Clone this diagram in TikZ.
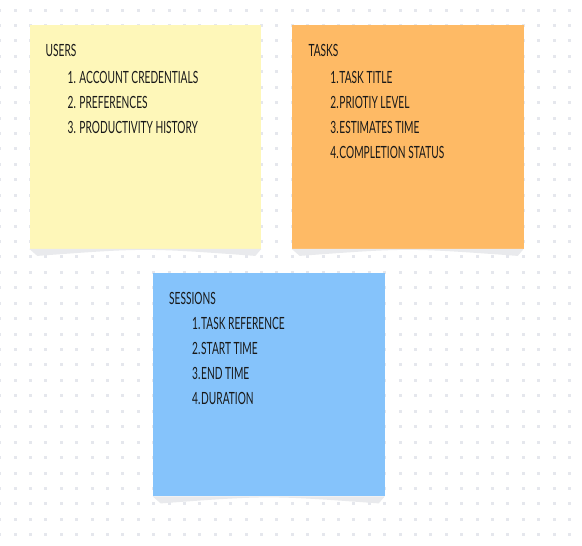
\documentclass[tikz,border=0pt]{standalone}
\usepackage{fontspec}
\usepackage{xcolor}
\usepackage{tikz}
\usetikzlibrary{positioning}

\newfontfamily\notefont[FakeStretch=0.605]{Lato}

\definecolor{usersyellow}{RGB}{254,247,185}
\definecolor{tasksorange}{RGB}{254,186,101}
\definecolor{sessionsblue}{RGB}{133,195,251}
\definecolor{griddot}{RGB}{229,231,237}
\definecolor{paperfold}{RGB}{233,234,237}
\definecolor{notetext}{RGB}{25,25,25}

\tikzset{
  note/.style={anchor=north west, minimum width=231.6pt, minimum height=223.5pt, inner sep=0pt},
  heading/.style={anchor=base west, inner sep=0pt, font=\notefont\fontsize{16.8}{18}\selectfont, text=notetext},
  entry/.style={heading}
}

\begin{document}
\begin{tikzpicture}[x=1pt, y=-1pt]
      \useasboundingbox (0,0) rectangle (582,546);
      \fill[white] (0,0) rectangle (582,546);

      % Dotted canvas
      \foreach \i in {0,...,38} {
        \foreach \j in {0,...,35} {
          \fill[griddot] ({15+15.4*(\i-1)-1.5},{10.1+15.43*\j-1.5}) rectangle ++(3,3);
        }
      }

      % Sticky notes
      \node[note, fill=usersyellow] (users) at (29.3,25) {};
      \node[note, fill=tasksorange] (tasks) at (291.7,25) {};
      \node[note, fill=sessionsblue] (sessions) at (152.7,272.5) {};

      % Curled paper under each note
      \foreach \n in {users,tasks,sessions} {
        \fill[paperfold] (\n.south west) -- ([shift={(8,7)}]\n.south west)
          .. controls ([shift={(0,-1)}]\n.south) .. ([shift={(-6,7)}]\n.south east)
          -- (\n.south east) -- cycle;
      }

      % Users
      \node[heading] (users-title) at (45.5,56.7) {USERS};
      \foreach \t [count=\k] in {ACCOUNT CREDENTIALS, PREFERENCES, PRODUCTIVITY HISTORY} {
        \node[entry] (users-\k) at (79.3,{83.3+24.9*(\k-1)}) {\llap{\k.\hspace{3.5pt}}\t};
      }

      % Tasks
      \node[heading] (tasks-title) at (308.3,56.7) {TASKS};
      \foreach \t [count=\k] in {TASK TITLE, PRIOTIY LEVEL, ESTIMATES TIME, COMPLETION STATUS} {
        \node[entry] (tasks-\k) at (339.3,{83.3+25*(\k-1)}) {\llap{\k.\hspace{0.8pt}}\t};
      }

      % Sessions
      \node[heading] (sessions-title) at (169,304) {SESSIONS};
      \foreach \t [count=\k] in {TASK REFERENCE, START TIME, END TIME, DURATION} {
        \node[entry] (sessions-\k) at (201,{329.3+25*(\k-1)}) {\llap{\k.\hspace{0.8pt}}\t};
      }

    \end{tikzpicture}
\end{document}
